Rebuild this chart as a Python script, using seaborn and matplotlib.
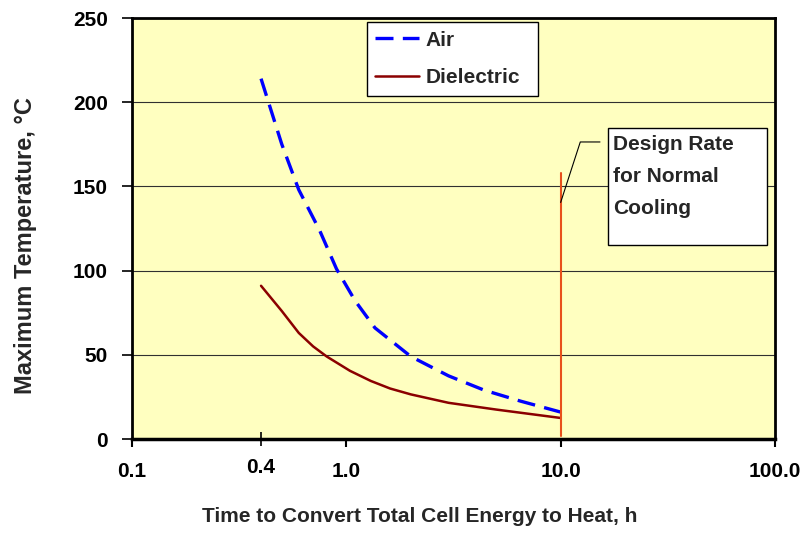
import matplotlib
matplotlib.use("Agg")
import matplotlib.pyplot as plt
import seaborn as sns
import pandas as pd
from matplotlib.ticker import FixedLocator, FixedFormatter
from matplotlib.patches import Rectangle

# ---- data ----
air_x = [0.4, 0.5, 0.6, 0.75, 0.9, 1.1, 1.36, 2.0, 3.0, 4.4, 6.5, 10.0]
air_y = [214, 175, 148, 124, 101, 82, 66, 49, 37.5, 29, 22.5, 16]
diel_x = [0.4, 0.5, 0.6, 0.7, 0.81, 1.04, 1.3, 1.6, 2.0, 3.0, 5.0, 10.0]
diel_y = [91, 76, 63, 55, 49, 40.5, 34.5, 30, 26.5, 21.5, 17.5, 12.5]
design_x = [10.0, 10.0]
design_y = [2, 158]
x_major = [0.1, 1.0, 10.0, 100.0]
x_major_labels = ["0.1", "1.0", "10.0", "100.0"]
x_minor = [0.4]
x_minor_labels = ["0.4"]
y_ticks = [0, 50, 100, 150, 200, 250]
series_names = ["Air", "Dielectric"]
note_text = "Design Rate\nfor Normal\nCooling"

FS = 15

sns.set_theme(style="white")
plt.rcParams["font.family"] = ["Liberation Sans", "DejaVu Sans"]
plt.rcParams["font.weight"] = "bold"

fig = plt.figure(figsize=(8.01, 5.35), dpi=100)
ax = fig.add_axes([0.1648, 0.1794, 0.8027, 0.7869])
ax.set_facecolor("#FFFFC0")

df_air = pd.DataFrame({"x": air_x, "y": air_y})
df_diel = pd.DataFrame({"x": diel_x, "y": diel_y})

sns.lineplot(data=df_air, x="x", y="y", ax=ax, color="#0000FF", lw=2.4,
             sort=False, label=series_names[0])
ax.lines[-1].set_dashes((5.4, 2.8))
sns.lineplot(data=df_diel, x="x", y="y", ax=ax, color="#8B0000", lw=1.8,
             sort=False, label=series_names[1])
ax.plot(design_x, design_y, color="#E8501C", lw=1.5, zorder=3)

ax.set_xscale("log")
ax.set_xlim(0.1, 100)
ax.set_ylim(0, 250)

ax.xaxis.set_major_locator(FixedLocator(x_major))
ax.xaxis.set_major_formatter(FixedFormatter(x_major_labels))
ax.xaxis.set_minor_locator(FixedLocator(x_minor))
ax.xaxis.set_minor_formatter(FixedFormatter(x_minor_labels))
ax.set_yticks(y_ticks)

ax.tick_params(axis="x", which="major", direction="out", length=6, width=1.5,
               pad=10.5, labelsize=FS, bottom=True, colors="black")
ax.tick_params(axis="x", which="minor", direction="inout", length=10, width=1.2,
               pad=9.0, labelsize=FS, bottom=True, colors="black")
ax.tick_params(axis="y", direction="out", length=7, width=1.2, pad=10.5,
               labelsize=FS, left=True, colors="black")
for lab in ax.get_xticklabels(which="both") + ax.get_yticklabels():
    lab.set_fontweight("bold")

ax.yaxis.grid(True, color="#303030", lw=0.8)
ax.xaxis.grid(False)
ax.set_axisbelow(True)

for side, sp in ax.spines.items():
    sp.set_visible(True)
    sp.set_color("black")
    sp.set_linewidth(2.0)
ax.spines["bottom"].set_linewidth(2.5)

ax.set_xlabel("Time to Convert Total Cell Energy to Heat, h", fontsize=FS,
              fontweight="bold")
ax.xaxis.set_label_coords(0.448, -0.161)
ax.set_ylabel("Maximum Temperature, \u00b0C", fontsize=17, fontweight="bold")
ax.yaxis.set_label_coords(-0.148, 0.46)

# legend with a hand-sized white frame
ax.add_patch(Rectangle((0.3655, 0.815), 0.266, 0.175, transform=ax.transAxes,
                       facecolor="white", edgecolor="black", lw=1.0, zorder=4))
leg = ax.legend(loc="upper left", bbox_to_anchor=(0.3655, 0.99),
                borderaxespad=0, frameon=False,
                prop={"weight": "bold", "size": FS}, handlelength=2.1,
                labelspacing=0.9, borderpad=0.4, handletextpad=0.3)
leg.set_zorder(6)

# annotation box
ax.add_patch(Rectangle((0.740, 0.46), 0.2475, 0.278, transform=ax.transAxes,
                       facecolor="white", edgecolor="black", lw=1.0, zorder=4))
ax.text(0.748, 0.722, note_text, transform=ax.transAxes, ha="left", va="top",
        fontsize=FS, fontweight="bold", linespacing=1.85, zorder=5)
ax.annotate("", xy=(10.0, 140.5), xytext=(15.26, 176.4),
            arrowprops=dict(arrowstyle="-", color="black", lw=0.8,
                            shrinkA=0, shrinkB=0,
                            connectionstyle="angle,angleA=0,angleB=72,rad=0"),
            zorder=5)

fig.savefig("out.png", dpi=100, facecolor="white")
